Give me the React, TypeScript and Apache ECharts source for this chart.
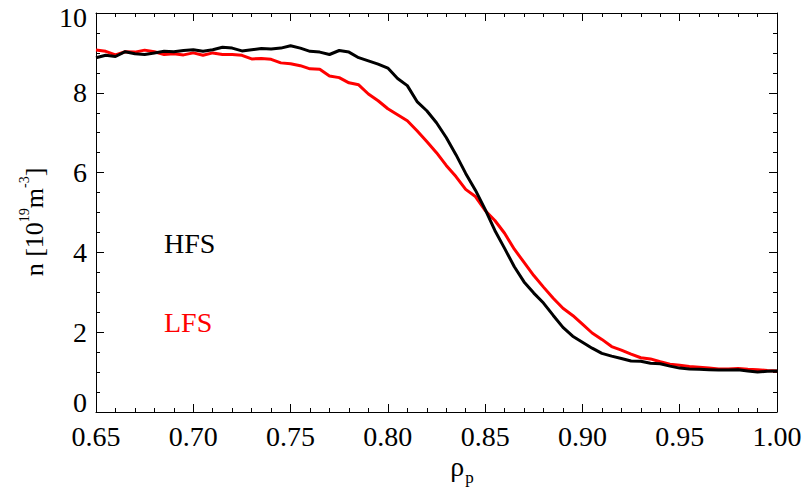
import React, { useEffect, useRef } from "react";
import * as echarts from "echarts";

const rho: number[] = [
  0.65, 0.655, 0.66, 0.665, 0.67, 0.675, 0.68, 0.685, 0.69, 0.695,
  0.7, 0.705, 0.71, 0.715, 0.72, 0.725, 0.73, 0.735, 0.74, 0.745,
  0.75, 0.755, 0.76, 0.765, 0.77, 0.775, 0.78, 0.785, 0.79, 0.795,
  0.8, 0.805, 0.81, 0.815, 0.82, 0.825, 0.83, 0.835, 0.84, 0.845,
  0.85, 0.855, 0.86, 0.865, 0.87, 0.875, 0.88, 0.885, 0.89, 0.895,
  0.9, 0.905, 0.91, 0.915, 0.92, 0.925, 0.93, 0.935, 0.94, 0.945,
  0.95, 0.955, 0.96, 0.965, 0.97, 0.975, 0.98, 0.985, 0.99, 0.995, 1.0,
];

const hfs: number[] = [
  8.88, 8.94, 8.91, 9.03, 8.98, 8.96, 9.0, 9.04, 9.03, 9.06,
  9.08, 9.04, 9.08, 9.14, 9.12, 9.05, 9.08, 9.11, 9.1, 9.12,
  9.18, 9.12, 9.04, 9.02, 8.96, 9.06, 9.02, 8.88, 8.8, 8.72,
  8.62, 8.36, 8.18, 7.78, 7.55, 7.25, 6.88, 6.45, 5.98, 5.56,
  5.08, 4.55, 4.1, 3.64, 3.26, 2.98, 2.73, 2.42, 2.12, 1.9,
  1.75, 1.6, 1.47, 1.4, 1.34, 1.28, 1.27, 1.22, 1.21, 1.15,
  1.1, 1.08, 1.07, 1.06, 1.05, 1.05, 1.06, 1.03, 1.0, 1.02, 1.03,
];

const lfs: number[] = [
  9.07, 9.04, 8.95, 9.03, 9.02, 9.07, 9.03, 8.96, 8.98, 8.95,
  9.0, 8.94, 9.0, 8.96, 8.96, 8.94, 8.85, 8.86, 8.84, 8.75,
  8.73, 8.68, 8.6, 8.59, 8.42, 8.38, 8.25, 8.2, 7.97, 7.8,
  7.6, 7.45, 7.3, 7.05, 6.78, 6.5, 6.18, 5.9, 5.58, 5.4,
  5.05, 4.8, 4.48, 4.08, 3.75, 3.42, 3.13, 2.85, 2.6, 2.42,
  2.2, 1.98, 1.82, 1.64, 1.55, 1.45, 1.36, 1.33, 1.26, 1.2,
  1.17, 1.14, 1.12, 1.1, 1.08, 1.08, 1.09, 1.07, 1.06, 1.04, 1.03,
];

const xTicks = { min: 0.65, max: 1.0, interval: 0.05 };
const yTicks = { min: 0, max: 10, interval: 2 };

const FONT = "'Liberation Serif', 'Times New Roman', serif";

export default function App() {
  const ref = useRef<HTMLDivElement>(null);
  useEffect(() => {
    if (!ref.current) return;
    const chart = echarts.init(ref.current, null, { renderer: "svg" });
    const axisCommon = {
      axisLine: { show: true, onZero: false, lineStyle: { color: "#000", width: 1 } },
      axisTick: { show: true, inside: true, length: 8, lineStyle: { color: "#000", width: 1 } },
      minorTick: { show: true, length: 4, lineStyle: { color: "#000", width: 1 } },
      splitLine: { show: false },
    };
    const xLabel = {
      color: "#000",
      fontFamily: FONT,
      fontSize: 28,
      margin: 10,
      formatter: (v: number) => v.toFixed(2),
    };
    const yLabel = {
      color: "#000",
      fontFamily: FONT,
      fontSize: 28,
      margin: 9,
      formatter: (v: number) => (v === 0 ? "{lo|0}" : v === 10 ? "{hi|10}" : String(v)),
      rich: {
        lo: { fontFamily: FONT, fontSize: 28, color: "#000", padding: [0, 0, 20, 0] },
        hi: { fontFamily: FONT, fontSize: 28, color: "#000", padding: [8, 0, 0, 0] },
      },
    };
    chart.setOption({
      animation: false,
      backgroundColor: "#fff",
      grid: { left: 96, right: 30, top: 13, bottom: 81, containLabel: false },
      xAxis: [
        {
          type: "value",
          position: "bottom",
          ...xTicks,
          ...axisCommon,
          minorTick: { ...axisCommon.minorTick, splitNumber: 5 },
          axisLabel: xLabel,
        },
        {
          type: "value",
          position: "top",
          ...xTicks,
          ...axisCommon,
          minorTick: { ...axisCommon.minorTick, splitNumber: 5 },
          axisLabel: { show: false },
        },
      ],
      yAxis: [
        {
          type: "value",
          position: "left",
          ...yTicks,
          ...axisCommon,
          minorTick: { ...axisCommon.minorTick, splitNumber: 4 },
          axisLabel: yLabel,
        },
        {
          type: "value",
          position: "right",
          ...yTicks,
          ...axisCommon,
          minorTick: { ...axisCommon.minorTick, splitNumber: 4 },
          axisLabel: { show: false },
        },
      ],
      series: [
        {
          name: "LFS",
          type: "line",
          data: rho.map((x, i) => [x, lfs[i]]),
          showSymbol: false,
          lineStyle: { color: "#ff0000", width: 3 },
          itemStyle: { color: "#ff0000" },
          z: 2,
        },
        {
          name: "HFS",
          type: "line",
          data: rho.map((x, i) => [x, hfs[i]]),
          showSymbol: false,
          lineStyle: { color: "#000000", width: 3 },
          itemStyle: { color: "#000000" },
          z: 3,
        },
      ],
      graphic: [
        {
          type: "text",
          left: 164,
          top: 229,
          style: { text: "HFS", fill: "#000", fontFamily: FONT, fontSize: 28 },
        },
        {
          type: "text",
          left: 164,
          top: 308,
          style: { text: "LFS", fill: "#ff0000", fontFamily: FONT, fontSize: 28 },
        },
        {
          type: "text",
          x: 462,
          y: 465,
          style: {
            text: "{a|ρ}{b|p}",
            align: "center",
            verticalAlign: "middle",
            rich: {
              a: { fontFamily: FONT, fontSize: 28, lineHeight: 30, fill: "#000", verticalAlign: "bottom" },
              b: { fontFamily: FONT, fontSize: 17, lineHeight: 30, fill: "#000", verticalAlign: "bottom", padding: [0, 0, -6, 1] },
            },
          },
        },
        {
          type: "text",
          x: 32,
          y: 222,
          rotation: Math.PI / 2,
          style: {
            text: "{a|n [10}{s|19}{a|m}{s|-3}{a|]}",
            align: "center",
            verticalAlign: "middle",
            rich: {
              a: { fontFamily: FONT, fontSize: 26, lineHeight: 30, fill: "#000", verticalAlign: "bottom" },
              s: { fontFamily: FONT, fontSize: 14, lineHeight: 30, fill: "#000", verticalAlign: "top" },
            },
          },
        },
      ],
    });
    return () => chart.dispose();
  }, []);
  return (
    <div
      ref={ref}
      style={{ position: "absolute", left: 0, top: 0, width: 807, height: 493 }}
    />
  );
}
